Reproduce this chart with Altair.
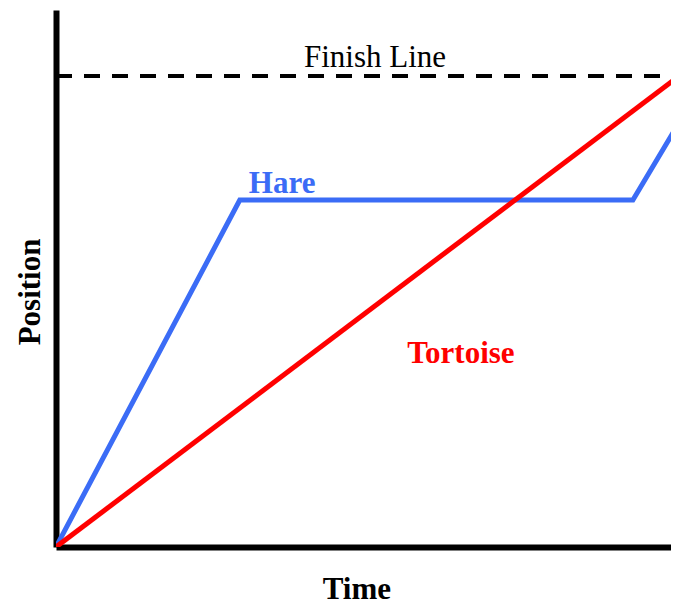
import altair as alt
import pandas as pd

# Data (arbitrary units: time 0-100, position 0-100)
hare_time = [0, 29.5, 92.6, 100]
hare_pos = [0, 64.6, 64.6, 79.0]
tortoise_time = [0, 100]
tortoise_pos = [0, 87.7]
finish_pos = 87.7

bold_text = ["Hare", "Tortoise", "Time"]
bold_x = [36.3, 65.0, 48.3]
bold_y = [65.9, 34.3, -9.6]
bold_color = ["#3b6cf6", "#ff0000", "black"]

FONT = "Liberation Serif"
W, H = 615, 537
X_MAX = 100 * W / 623  # visible part of the time axis (cut at the window edge)

xs = alt.Scale(domain=[0, X_MAX], nice=False, zero=False)
ys = alt.Scale(domain=[0, 100], nice=False, zero=False)

hare_df = pd.DataFrame({"t": hare_time, "p": hare_pos})
tort_df = pd.DataFrame({"t": tortoise_time, "p": tortoise_pos})
fin_df = pd.DataFrame({"t": [0], "t2": [100], "p": [finish_pos]})
fin_lab_df = pd.DataFrame({"text": ["Finish Line"], "x": [51.2], "y": [89.4]})
bold_df = pd.DataFrame({"text": bold_text, "x": bold_x, "y": bold_y, "color": bold_color})
pos_df = pd.DataFrame({"text": ["Position"], "x": [-2.6], "y": [47.5]})

x_axis = alt.Axis(title=None, labels=False, ticks=False, grid=False,
                  domainColor="black", domainWidth=6)
y_axis = alt.Axis(title=None, labels=False, ticks=False, grid=False,
                  domainColor="black", domainWidth=6)

finish = alt.Chart(fin_df).mark_rule(color="black", strokeWidth=4, strokeDash=[16, 12],
                                     clip=True).encode(
    x=alt.X("t:Q", scale=xs, axis=x_axis),
    x2="t2:Q",
    y=alt.Y("p:Q", scale=ys, axis=y_axis),
)

hare = alt.Chart(hare_df).mark_line(color="#3b6cf6", strokeWidth=5, clip=True).encode(
    x=alt.X("t:Q", scale=xs),
    y=alt.Y("p:Q", scale=ys),
)

tort = alt.Chart(tort_df).mark_line(color="#ff0000", strokeWidth=5, clip=True).encode(
    x=alt.X("t:Q", scale=xs),
    y=alt.Y("p:Q", scale=ys),
)

fin_label = alt.Chart(fin_lab_df).mark_text(font=FONT, fontSize=31, baseline="alphabetic",
                                            align="center", color="black").encode(
    x=alt.X("x:Q", scale=xs),
    y=alt.Y("y:Q", scale=ys),
    text="text:N",
)

bold_labels = alt.Chart(bold_df).mark_text(font=FONT, fontSize=31, fontWeight="bold",
                                           baseline="alphabetic", align="center").encode(
    x=alt.X("x:Q", scale=xs),
    y=alt.Y("y:Q", scale=ys),
    text="text:N",
    color=alt.Color("color:N", scale=None),
)

pos_label = alt.Chart(pos_df).mark_text(font=FONT, fontSize=31, fontWeight="bold",
                                        baseline="alphabetic", align="center",
                                        angle=270, color="black").encode(
    x=alt.X("x:Q", scale=xs),
    y=alt.Y("y:Q", scale=ys),
    text="text:N",
)

chart = alt.layer(finish, hare, tort, fin_label, bold_labels, pos_label).properties(
    width=W, height=H,
    autosize=alt.AutoSizeParams(type="none"),
    padding={"left": 48, "top": 2, "right": 0, "bottom": 53},
).configure_view(stroke=None)

chart.save("out.html", embed_options={"renderer": "svg", "actions": False})
